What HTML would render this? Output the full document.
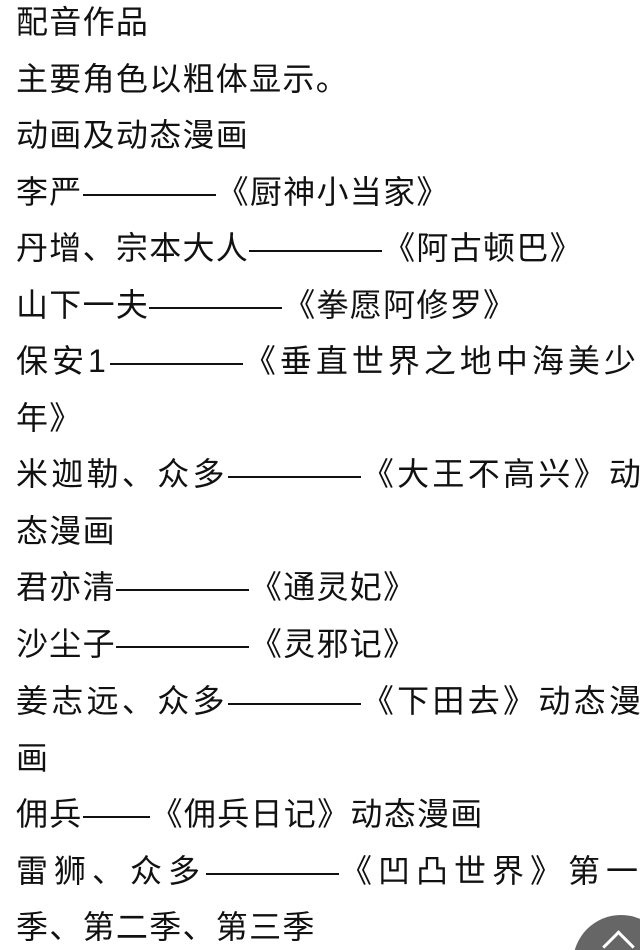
<!DOCTYPE html>
<html><head><meta charset="utf-8"><style>
html,body{margin:0;padding:0;background:#fff;width:640px;height:950px;overflow:hidden;}
body{font-family:"Liberation Sans","Noto Sans CJK SC",sans-serif;font-size:32px;color:#111;}
#w{position:relative;width:640px;height:950px;overflow:hidden;}
.l{position:absolute;left:16px;white-space:nowrap;height:56px;line-height:56px;letter-spacing:1.3px;}
.d{display:inline-block;width:133px;height:0;border-top:2px solid #111;vertical-align:middle;margin-right:1px;}
.d2{width:67px;}
.btn{position:absolute;left:573px;top:915px;width:96px;height:96px;border-radius:50%;background:#666;}
.btn:after{content:"";position:absolute;left:34px;top:20px;width:20px;height:20px;border-left:3px solid #fff;border-top:3px solid #fff;transform:rotate(45deg);}
</style></head><body><div id="w">
<div class="l" style="top:-6px">配音作品</div>
<div class="l" style="top:51px">主要角色以粗体显示。</div>
<div class="l" style="top:107px">动画及动态漫画</div>
<div class="l" style="top:164px">李严<span class="d"></span>《厨神小当家》</div>
<div class="l" style="top:220px">丹增、宗本大人<span class="d"></span>《阿古顿巴》</div>
<div class="l" style="top:277px">山下一夫<span class="d"></span>《拳愿阿修罗》</div>
<div class="l" style="top:333px;letter-spacing:4px">保安1<span class="d"></span>《垂直世界之地中海美少</div>
<div class="l" style="top:390px">年》</div>
<div class="l" style="top:446px;letter-spacing:3.3px">米迦勒、众多<span class="d"></span>《大王不高兴》动</div>
<div class="l" style="top:503px">态漫画</div>
<div class="l" style="top:559px">君亦清<span class="d"></span>《通灵妃》</div>
<div class="l" style="top:616px">沙尘子<span class="d"></span>《灵邪记》</div>
<div class="l" style="top:673px;letter-spacing:3.3px">姜志远、众多<span class="d"></span>《下田去》动态漫</div>
<div class="l" style="top:730px">画</div>
<div class="l" style="top:786px">佣兵<span class="d d2"></span>《佣兵日记》动态漫画</div>
<div class="l" style="top:843px;letter-spacing:6px">雷狮、众多<span class="d"></span>《凹凸世界》第一</div>
<div class="l" style="top:899px">季、第二季、第三季</div>
<div class="btn"></div>
</div></body></html>
